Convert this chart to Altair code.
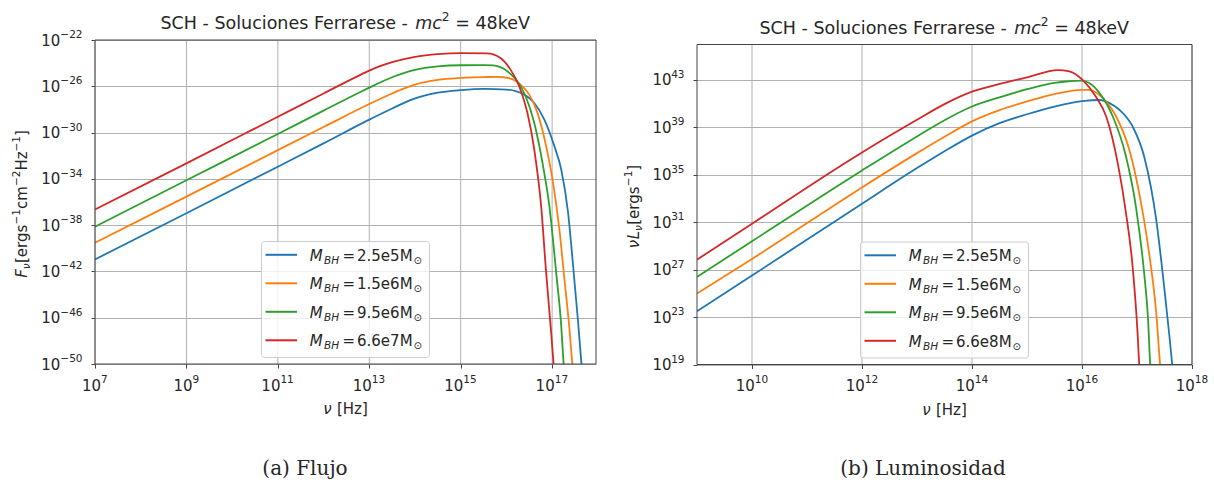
import altair as alt
import pandas as pd

# ---- series data (log10 of frequency in Hz, log10 of the plotted quantity) ----
colors = ["#1f77b4", "#ff7f0e", "#2ca02c", "#d62728"]
flux_masses = ["2.5e5", "1.5e6", "9.5e6", "6.6e7"]
lum_masses = ["2.5e5", "1.5e6", "9.5e6", "6.6e8"]

# Flux density F_nu
flux_lognu_blue = [7, 9, 11, 12, 13, 13.5, 13.75, 14, 14.5, 15, 15.5, 16, 16.39, 16.61, 16.83, 17.05, 17.2, 17.35, 17.46, 17.57, 17.64, 17.7]
flux_logF_blue = [-40.96, -36.97, -32.95, -30.93, -28.88, -27.92, -27.45, -27.05, -26.55, -26.33, -26.22, -26.28, -26.72, -27.44, -28.88, -31.19, -33.2, -36.95, -41.56, -46.46, -49.9, -52.2]

flux_lognu_orange = [7, 9, 11, 12, 13, 13.5, 13.75, 14, 14.5, 15, 15.5, 15.8, 16.09, 16.31, 16.5, 16.68, 16.87, 17.01, 17.16, 17.27, 17.38, 17.44, 17.5]
flux_logF_orange = [-39.52, -35.54, -31.52, -29.52, -27.53, -26.62, -26.2, -25.85, -25.45, -25.28, -25.2, -25.19, -25.33, -25.86, -26.72, -28.3, -31.19, -34.07, -38.4, -42.7, -47.0, -49.9, -52.5]

flux_lognu_green = [7, 9, 11, 12, 12.75, 13, 13.5, 14, 14.5, 15, 15.5, 15.71, 16.02, 16.24, 16.42, 16.61, 16.79, 16.94, 17.09, 17.2, 17.25, 17.3]
flux_logF_green = [-38.13, -34.12, -30.12, -28.1, -26.6, -26.12, -25.22, -24.58, -24.28, -24.18, -24.17, -24.2, -24.7, -25.57, -26.86, -29.17, -32.63, -36.37, -42.14, -46.75, -49.9, -52.5]

flux_lognu_red = [7, 9, 11, 12, 12.75, 13, 13.25, 13.5, 14, 14.5, 15, 15.58, 15.87, 16.09, 16.28, 16.46, 16.61, 16.76, 16.87, 16.98, 17.03, 17.08]
flux_logF_red = [-36.64, -32.66, -28.63, -26.62, -25.12, -24.65, -24.24, -23.92, -23.46, -23.22, -23.13, -23.15, -23.55, -24.56, -26.0, -28.3, -31.48, -36.37, -42.14, -47.33, -49.9, -52.5]

# Luminosity nu*L_nu
lum_lognu_blue = [9, 10, 12, 13, 13.5, 14, 14.5, 15, 15.5, 16, 16.32, 16.5, 16.68, 16.92, 17.13, 17.35, 17.5, 17.59, 17.64, 17.7]
lum_logL_blue = [23.49, 26.5, 32.56, 35.56, 36.98, 38.3, 39.35, 40.1, 40.75, 41.2, 41.3, 41.04, 40.48, 39.07, 36.54, 31.2, 25.3, 21.36, 19.0, 16.5]

lum_lognu_orange = [9, 10, 12, 13, 13.5, 14, 14.5, 15, 15.5, 16, 16.13, 16.38, 16.62, 16.86, 17.04, 17.22, 17.35, 17.42, 17.48]
lum_logL_orange = [24.98, 27.9, 33.93, 36.82, 38.2, 39.5, 40.45, 41.18, 41.8, 42.16, 42.16, 41.46, 39.91, 37.1, 33.45, 28.39, 23.33, 19.0, 16.5]

lum_lognu_green = [9, 10, 12, 13, 13.5, 14, 14.5, 15, 15.5, 15.71, 16, 16.13, 16.32, 16.56, 16.8, 16.98, 17.13, 17.2, 17.24, 17.3]
lum_logL_green = [26.38, 29.39, 35.36, 38.23, 39.6, 40.75, 41.52, 42.21, 42.75, 42.86, 42.94, 42.73, 41.88, 39.91, 36.54, 32.32, 26.7, 22.9, 19.0, 16.5]

lum_lognu_red = [9, 10, 12, 13, 13.5, 14, 14.5, 15, 15.56, 15.77, 16.01, 16.25, 16.44, 16.65, 16.8, 16.92, 17.01, 17.04, 17.1]
lum_logL_red = [27.84, 30.87, 36.88, 39.63, 40.95, 42.0, 42.65, 43.2, 43.82, 43.72, 43.0, 41.6, 39.91, 35.98, 31.77, 27.27, 21.67, 19.0, 16.5]

# tick exponents
flux_x_exps = [7, 9, 11, 13, 15, 17]
flux_y_exps = [-22, -26, -30, -34, -38, -42, -46, -50]
lum_x_exps = [10, 12, 14, 16, 18]
lum_y_exps = [43, 39, 35, 31, 27, 23, 19]

FONT = "DejaVu Sans"
TEXT_COLOR = "#262626"
FRAME = "#444444"
GRID = "#b0b0b0"
FS = 15        # base text size
FS_SMALL = 10.5  # sub/superscript size

# approximate advance widths (em) of DejaVu Sans, used to chain mixed-style text runs
ADV = {
    "S": .635, "C": .698, "H": .752, "-": .361, " ": .318, "o": .612, "l": .278, "u": .634,
    "c": .550, "i": .278, "n": .634, "e": .615, "s": .521, "F": .575, "r": .411, "a": .613,
    "m": .974, "=": .838, "4": .636, "8": .636, "k": .579, "V": .684, "2": .636, "1": .636,
    "[": .390, "]": .390, "g": .635, "z": .525, "−": .838, "ν": .592, "L": .557,
}


def adv(s, size):
    return sum(ADV.get(ch, 0.6) for ch in s) * size


ONE = pd.DataFrame({"k": [0]})


def txt(text, x, y, size, style="normal", align="left", font=FONT, baseline="alphabetic", angle=0):
    return alt.Chart(ONE).mark_text(
        text=text, font=font, fontSize=size, fontStyle=style, align=align,
        baseline=baseline, color=TEXT_COLOR, angle=angle,
    ).encode(x=alt.value(x), y=alt.value(y))


def run(pieces, x0, y0, vertical=False, centered=True):
    """Chain text pieces (text, size, style, shift); a blank text only advances."""
    total = sum(adv(t, s) for t, s, _, _ in pieces)
    pos = -total / 2 if centered else 0
    out = []
    for t, s, st, shift in pieces:
        if t.strip():
            if vertical:
                out.append(txt(t, x0 + shift, y0 - pos, s, style=st, angle=270))
            else:
                out.append(txt(t, x0 + pos, y0 + shift, s, style=st))
        pos += adv(t, s)
    return out


def title_layers(w, top):
    pieces = [("SCH - Soluciones Ferrarese -", 17.5, "normal", 0), (" ", 17.5, "normal", 0),
              ("mc", 17.5, "italic", 0), ("2", 12.25, "normal", -8), (" ", 17.5, "normal", 0),
              ("= 48keV", 17.5, "normal", 0)]
    return run(pieces, w / 2, top - 11)


def legend_layers(masses, w, bottom):
    bw, bh = 168, 116
    bx0 = w / 2 - bw / 2
    by1 = bottom - 6.5
    by0 = by1 - bh
    layers = [
        alt.Chart(ONE).mark_rect(fill="white", fillOpacity=0.8, stroke="#cccccc",
                                 strokeWidth=1, cornerRadius=3).encode(
            x=alt.value(bx0), x2=alt.value(bx0 + bw), y=alt.value(by0), y2=alt.value(by1))
    ]
    for i, (m, c) in enumerate(zip(masses, colors)):
        ry = by0 + 13.3 + 28.5 * i
        layers.append(alt.Chart(ONE).mark_rule(stroke=c, strokeWidth=2).encode(
            x=alt.value(bx0 + 4), x2=alt.value(bx0 + 35.5), y=alt.value(ry)))
        layers.append(txt("M", bx0 + 48.3, ry + 6, FS, style="italic"))
        layers.append(txt("BH", bx0 + 62.5, ry + 9, FS_SMALL, style="italic"))
        layers.append(txt("=", bx0 + 81, ry + 6, FS))
        layers.append(txt(f"{m}M", bx0 + 95.5, ry + 6, FS))
        layers.append(txt("⊙", bx0 + 152, ry + 9, 10))
    return layers


def sup_text(e):
    return str(e).replace("-", "−")


def panel(df, masses, xdom, ydom, xexps, yexps, w, h, top, ytitle_pieces, ytitle_x,
          caption, cap_x, cap_y, spacer_x, spacer_y):
    """One log-log panel; the plotting frame spans y = top .. top + h inside the view."""
    bottom = top + h
    x = alt.X("nu:Q", scale=alt.Scale(type="log", domain=xdom, nice=False),
              axis=alt.Axis(values=[10.0 ** e for e in xexps], labels=False, title=None, grid=False))
    y = alt.Y("val:Q", scale=alt.Scale(type="log", domain=ydom, nice=False, range=[bottom, top]),
              axis=alt.Axis(values=[10.0 ** e for e in yexps], labels=False, title=None, grid=True))

    xdf = pd.DataFrame({"nu": [10.0 ** e for e in xexps], "exp": [sup_text(e) for e in xexps]})
    ydf = pd.DataFrame({"val": [10.0 ** e for e in yexps], "exp": [sup_text(e) for e in yexps]})

    # vertical grid lines at the labelled decades
    vgrid = alt.Chart(xdf).mark_rule(color=GRID, strokeWidth=1).encode(
        x=x, y=alt.value(top), y2=alt.value(bottom))

    lines = alt.Chart(df).mark_line(clip=True, strokeWidth=1.8, interpolate="monotone").encode(
        x=x, y=y,
        color=alt.Color("k:N", scale=alt.Scale(domain=["0", "1", "2", "3"], range=colors),
                        legend=None),
    )
    frame = alt.Chart(ONE).mark_rect(fillOpacity=0, stroke=FRAME, strokeWidth=1).encode(
        x=alt.value(0), x2=alt.value(w), y=alt.value(top), y2=alt.value(bottom))
    layers = [vgrid, lines, frame]

    # tick labels of the form 10^n, placed through the axis scales
    w10 = adv("10", FS)
    for n_digits in sorted({len(sup_text(e)) for e in xexps}):
        exps = [e for e in xexps if len(sup_text(e)) == n_digits]
        tdf = xdf[xdf["exp"].str.len() == n_digits]
        anchor = (w10 - adv(sup_text(exps[0]), FS_SMALL)) / 2
        layers.append(alt.Chart(tdf).mark_text(text="10", font=FONT, fontSize=FS, align="right",
                                               baseline="alphabetic", dx=anchor, color=TEXT_COLOR)
                      .encode(x=x, y=alt.value(bottom + 26.5)))
        layers.append(alt.Chart(tdf).mark_text(font=FONT, fontSize=FS_SMALL, align="left",
                                               baseline="alphabetic", dx=anchor, color=TEXT_COLOR)
                      .encode(x=x, y=alt.value(bottom + 18.5), text="exp:N"))
    ew = adv(sup_text(yexps[0]), FS_SMALL)
    layers.append(alt.Chart(ydf).mark_text(text="10", font=FONT, fontSize=FS, align="right",
                                           baseline="alphabetic", dy=5.5, color=TEXT_COLOR)
                  .encode(x=alt.value(-12.5 - ew), y=y))
    layers.append(alt.Chart(ydf).mark_text(font=FONT, fontSize=FS_SMALL, align="right",
                                           baseline="alphabetic", dy=-2, color=TEXT_COLOR)
                  .encode(x=alt.value(-12.5), y=y, text="exp:N"))

    # axis titles
    layers += run([("ν", FS, "italic", 0), (" ", FS, "normal", 0), ("[Hz]", FS, "normal", 0)],
                  w / 2, bottom + 50)
    layers += run(ytitle_pieces, ytitle_x, top + h / 2 + 2, vertical=True)

    layers += title_layers(w, top)
    layers += legend_layers(masses, w, bottom)
    layers.append(txt(caption, cap_x, cap_y, 20, align="center", font="DejaVu Serif"))
    # invisible anchor fixing the top-left corner of the panel's layout box
    layers.append(alt.Chart(ONE).mark_rule(strokeOpacity=0).encode(
        x=alt.value(spacer_x), x2=alt.value(spacer_x + 10), y=alt.value(spacer_y)))
    return alt.layer(*layers).properties(width=w, height=bottom)


def build_frame(xs_list, ys_list):
    rows = []
    for k, (xs, ys) in enumerate(zip(xs_list, ys_list)):
        for a, b in zip(xs, ys):
            rows.append({"nu": 10.0 ** a, "val": 10.0 ** b, "k": str(k)})
    return pd.DataFrame(rows)


flux_df = build_frame(
    [flux_lognu_blue, flux_lognu_orange, flux_lognu_green, flux_lognu_red],
    [flux_logF_blue, flux_logF_orange, flux_logF_green, flux_logF_red])
lum_df = build_frame(
    [lum_lognu_blue, lum_lognu_orange, lum_lognu_green, lum_lognu_red],
    [lum_logL_blue, lum_logL_orange, lum_logL_green, lum_logL_red])

SUPER, SUB = -7, 3
flux_ytitle = [("F", FS, "italic", 0), ("ν", FS_SMALL, "italic", SUB), ("[ergs", FS, "normal", 0),
               ("−1", FS_SMALL, "normal", SUPER), ("cm", FS, "normal", 0),
               ("−2", FS_SMALL, "normal", SUPER), ("Hz", FS, "normal", 0),
               ("−1", FS_SMALL, "normal", SUPER), ("]", FS, "normal", 0)]
lum_ytitle = [("ν", FS, "italic", 0), ("L", FS, "italic", 0), ("ν", FS_SMALL, "italic", SUB),
              ("[ergs", FS, "normal", 0), ("−1", FS_SMALL, "normal", SUPER), ("]", FS, "normal", 0)]

left = panel(flux_df, flux_masses, [1e7, 10 ** 17.96], [1e-50, 1e-22],
             flux_x_exps, flux_y_exps, 501, 324, 0, flux_ytitle, -68,
             "(a) Flujo", 210, 435, -95, -40)
right = panel(lum_df, lum_masses, [1e9, 1e18], [1e19, 10 ** 45.98],
              lum_x_exps, lum_y_exps, 495, 320, 4.5, lum_ytitle, -58,
              "(b) Luminosidad", 226, 435, -80, 10)

chart = alt.hconcat(left, right, spacing=20).properties(
    padding={"left": 0, "top": 0, "right": 0, "bottom": 0},
).configure_view(
    strokeOpacity=0,
).configure_axis(
    domain=False, gridColor=GRID, gridWidth=1,
    tickColor=FRAME, tickSize=4, tickWidth=1,
)

chart.save("out.html", embed_options={"renderer": "svg", "actions": False})
